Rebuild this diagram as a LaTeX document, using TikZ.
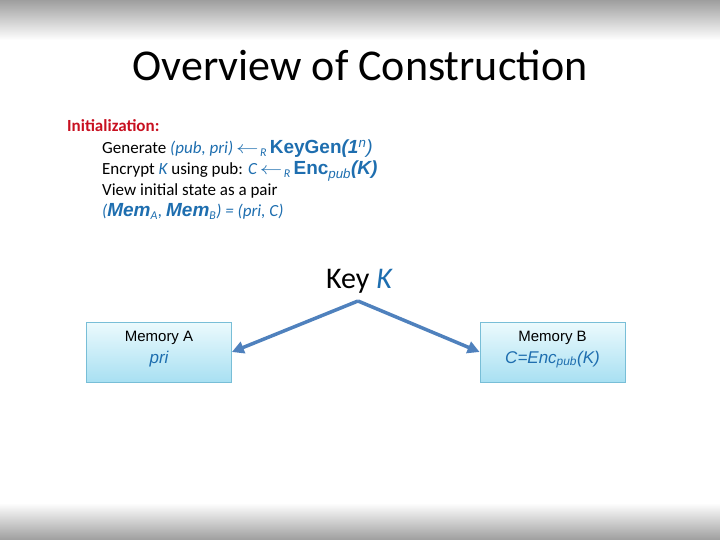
\documentclass[tikz,border=0pt]{standalone}
\usepackage{fontspec}
\setmainfont{Carlito}
\newfontfamily\arf{Liberation Sans}
\usetikzlibrary{arrows.meta}
\definecolor{kblue}{RGB}{30,110,175}
\definecolor{kred}{RGB}{200,16,32}
\definecolor{arrowblue}{RGB}{79,129,189}
\definecolor{boxtop}{RGB}{236,250,253}
\definecolor{boxbot}{RGB}{168,224,242}
\definecolor{boxline}{RGB}{120,190,215}
\newcommand\kb{\color{kblue}}
\newcommand\lsub[1]{\textsubscript{#1}}
\newcommand\rarr{\,\scalebox{1.3}[1]{$\leftarrow$}\kern1.5pt}
\newcommand\bigarf{\arf\fontsize{19}{20}\selectfont}
\begin{document}
\begin{tikzpicture}[x=1pt,y=-1pt,
  txt/.style={anchor=base west,inner sep=0pt,font=\fontsize{17}{20}\selectfont},
  membox/.style={draw=boxline,line width=0.8pt,top color=boxtop,bottom color=boxbot,
     minimum height=60pt,minimum width=145pt,inner sep=0pt},
  memtxt/.style={anchor=base,inner sep=0pt,font=\arf\fontsize{15}{18}\selectfont},
  memval/.style={anchor=base,inner sep=0pt,text=kblue,font=\arf\fontsize{17}{20}\selectfont\itshape},
  link/.style={draw=arrowblue,line width=3.5pt,-{Triangle[length=12pt,width=12pt]}}]
\useasboundingbox (0,0) rectangle (720,540);
\shade[top color=black!38,bottom color=white] (0,0) rectangle (720,40);
\shade[top color=white,bottom color=black!38] (0,503) rectangle (720,540);
\node[anchor=base,inner sep=0pt,font=\fontsize{44}{50}\selectfont] (title) at (360,81) {Overview of Construction};
\node[txt,text=kred,font=\fontsize{17}{20}\selectfont\bfseries] (init) at (67,132) {Initialization:};
\node[txt] (l1) at (102,153.5) {Generate {\kb\itshape (pub, pri)\rarr\lsub{R}\,}{\kb\bigarf\bfseries KeyGen\itshape(1\textsuperscript{\mdseries n}\mdseries)}};
\node[txt] (l2) at (102,174.5) {Encrypt {\kb\itshape K} using pub: {\kb\itshape C\rarr\lsub{R}\,}{\kb\bigarf\bfseries Enc\lsub{\itshape\mdseries pub}\itshape(K)}};
\node[txt] (l3) at (102,195.5) {View initial state as a pair};
\node[txt] (l4) at (102,216.5) {\kb\itshape ({\bigarf\bfseries Mem}\lsub{A}, {\bigarf\bfseries Mem}\lsub{B}) = (pri, C)};
\node[anchor=base,inner sep=0pt,font=\fontsize{30}{34}\selectfont] (key) at (359,288) {Key {\kb\itshape K}};
\coordinate (apex) at (358,301);
\node[membox] (memA) at (159,352) {};
\node[memtxt] (memAt) at (159,341) {Memory A};
\node[memval] (memAv) at (159,363) {pri};
\node[membox] (memB) at (552.5,352) {};
\node[memtxt] (memBt) at (552.5,341) {Memory B};
\node[memval] (memBv) at (552.5,363) {C=Enc\lsub{pub}(K)};
\draw[link] (apex) -- (memA.east);
\draw[link] (apex) -- (memB.west);
\end{tikzpicture}
\end{document}
